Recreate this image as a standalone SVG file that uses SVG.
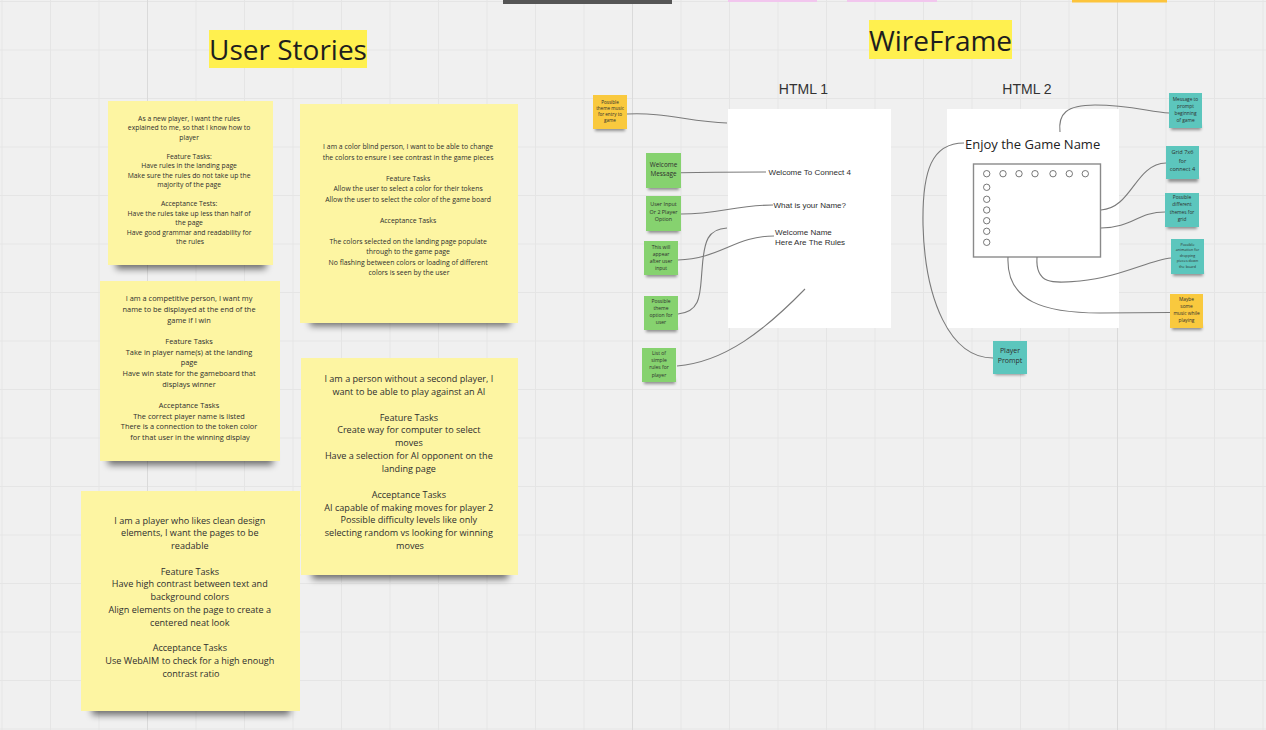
<svg xmlns="http://www.w3.org/2000/svg" width="1266" height="730" viewBox="0 0 1266 730">
<defs>
<pattern id="grid" x="1.5" y="1" width="48.5" height="48.5" patternUnits="userSpaceOnUse">
<path d="M0.5 0V48.5M0 0.5H48.5" stroke="#e5e5e5" stroke-width="1" fill="none"/>
</pattern>
<filter id="blur" x="-20%" y="-100%" width="140%" height="300%"><feGaussianBlur stdDeviation="3.5"/></filter>
<filter id="blurs" x="-30%" y="-100%" width="160%" height="300%"><feGaussianBlur stdDeviation="1.5"/></filter>
<style>
.t{font-family:"Open Sans","Noto Sans",sans-serif;fill:#2e2e2e;text-anchor:middle}
.big{fill:#fdf5a2}
.sh{fill:#000;opacity:.55;filter:url(#blur)}
.shs{fill:#000;opacity:.4;filter:url(#blurs)}
.g{fill:#86d26f}
.c{fill:#5cc6bd}
.o{fill:#f9c93e}
.con{fill:none;stroke:#7a7a7a;stroke-width:1.1}
.s1{font-size:6.8px}
.s2{font-size:6.9px}
.s3{font-size:7.4px}
.s4{font-size:9.1px}
.tiny{font-size:4.6px}
.wf{font-family:"Liberation Sans",Arial,sans-serif;font-size:8px;fill:#2e2e2e}
</style>
</defs>
<rect width="1266" height="730" fill="#f0f0f0"/>
<rect width="1266" height="730" fill="url(#grid)"/>
<path d="M147.5 0V730M632.5 0V730M1117.5 0V730" stroke="#dadada" stroke-width="1"/>

<!-- top cut-off elements -->
<rect x="503" y="0" width="169" height="4" fill="#555"/>
<rect x="728" y="0" width="89" height="2" fill="#f2c6ee"/>
<rect x="847" y="0" width="90" height="2" fill="#f2c6ee"/>
<rect x="1072" y="0" width="95" height="2.5" fill="#fcc43c"/>

<!-- titles -->
<g id="title-user-stories">
<rect x="209" y="30" width="158" height="38" fill="#fff04f"/>
<text x="288" y="60" class="t" style="font-size:28px;fill:#1e1e1e">User Stories</text>
</g>
<g id="title-wireframe">
<rect x="869" y="20" width="143" height="39" fill="#fff04f"/>
<text x="940.5" y="51" class="t" style="font-size:28px;fill:#1e1e1e">WireFrame</text>
</g>

<!-- big sticky notes -->
<g id="story-rules">
<rect class="sh" x="116" y="255" width="150" height="14"/>
<rect class="big" x="108" y="101" width="165" height="164"/>
<text class="t s1" x="190" y="120.7">
<tspan x="190">As a new player, I want the rules</tspan>
<tspan x="190" dy="9.49">explained to me, so that I know how to</tspan>
<tspan x="190" dy="9.49">player</tspan>
<tspan x="190" dy="18.98">Feature Tasks:</tspan>
<tspan x="190" dy="9.49">Have rules in the landing page</tspan>
<tspan x="190" dy="9.49">Make sure the rules do not take up the</tspan>
<tspan x="190" dy="9.49">majority of the page</tspan>
<tspan x="190" dy="18.98">Acceptance Tests:</tspan>
<tspan x="190" dy="9.49">Have the rules take up less than half of</tspan>
<tspan x="190" dy="9.49">the page</tspan>
<tspan x="190" dy="9.49">Have good grammar and readability for</tspan>
<tspan x="190" dy="9.49">the rules</tspan>
</text>
</g>

<g id="story-colorblind">
<rect class="sh" x="310" y="312" width="200" height="14"/>
<rect class="big" x="300" y="104" width="218" height="219"/>
<text class="t s2" x="409" y="149.1">
<tspan x="409">I am a color blind person, I want to be able to change</tspan>
<tspan x="409" dy="10.5">the colors to ensure I see contrast in the game pieces</tspan>
<tspan x="409" dy="21">Feature Tasks</tspan>
<tspan x="409" dy="10.5">Allow the user to select a color for their tokens</tspan>
<tspan x="409" dy="10.5">Allow the user to select the color of the game board</tspan>
<tspan x="409" dy="21">Acceptance Tasks</tspan>
<tspan x="409" dy="21">The colors selected on the landing page populate</tspan>
<tspan x="409" dy="10.5">through to the game page</tspan>
<tspan x="409" dy="10.5">No flashing between colors or loading of different</tspan>
<tspan x="409" dy="10.5">colors is seen by the user</tspan>
</text>
</g>

<g id="story-competitive">
<rect class="sh" x="108" y="451" width="165" height="14"/>
<rect class="big" x="100" y="281" width="180" height="180"/>
<text class="t s3" x="190" y="301.3">
<tspan x="190">I am a competitive person, I want my</tspan>
<tspan x="190" dy="10.66">name to be displayed at the end of the</tspan>
<tspan x="190" dy="10.66">game if I win</tspan>
<tspan x="190" dy="21.32">Feature Tasks</tspan>
<tspan x="190" dy="10.66">Take in player name(s) at the landing</tspan>
<tspan x="190" dy="10.66">page</tspan>
<tspan x="190" dy="10.66">Have win state for the gameboard that</tspan>
<tspan x="190" dy="10.66">displays winner</tspan>
<tspan x="190" dy="21.32">Acceptance Tasks</tspan>
<tspan x="190" dy="10.66">The correct player name is listed</tspan>
<tspan x="190" dy="10.66">There is a connection to the token color</tspan>
<tspan x="190" dy="10.66">for that user in the winning display</tspan>
</text>
</g>

<g id="story-ai">
<rect class="sh" x="312" y="564" width="196" height="15"/>
<rect class="big" x="301" y="358" width="217" height="217"/>
<text class="t s4" x="410" y="381.9">
<tspan x="410">I am a person without a second player, I</tspan>
<tspan x="410" dy="12.87">want to be able to play against an AI</tspan>
<tspan x="410" dy="25.74">Feature Tasks</tspan>
<tspan x="410" dy="12.87">Create way for computer to select</tspan>
<tspan x="410" dy="12.87">moves</tspan>
<tspan x="410" dy="12.87">Have a selection for AI opponent on the</tspan>
<tspan x="410" dy="12.87">landing page</tspan>
<tspan x="410" dy="25.74">Acceptance Tasks</tspan>
<tspan x="410" dy="12.87">AI capable of making moves for player 2</tspan>
<tspan x="410" dy="12.87">Possible difficulty levels like only</tspan>
<tspan x="410" dy="12.87">selecting random vs looking for winning</tspan>
<tspan x="410" dy="12.87">moves</tspan>
</text>
</g>

<g id="story-design">
<rect class="sh" x="92" y="700" width="198" height="15"/>
<rect class="big" x="81" y="491" width="219" height="220"/>
<text class="t s4" x="191" y="523.5">
<tspan x="191">I am a player who likes clean design</tspan>
<tspan x="191" dy="12.75">elements, I want the pages to be</tspan>
<tspan x="191" dy="12.75">readable</tspan>
<tspan x="191" dy="25.5">Feature Tasks</tspan>
<tspan x="191" dy="12.75">Have high contrast between text and</tspan>
<tspan x="191" dy="12.75">background colors</tspan>
<tspan x="191" dy="12.75">Align elements on the page to create a</tspan>
<tspan x="191" dy="12.75">centered neat look</tspan>
<tspan x="191" dy="25.5">Acceptance Tasks</tspan>
<tspan x="191" dy="12.75">Use WebAIM to check for a high enough</tspan>
<tspan x="191" dy="12.75">contrast ratio</tspan>
</text>
</g>

<!-- wireframe pages -->
<g id="html1">
<text x="803.5" y="94" style="font-family:'Liberation Sans',Arial,sans-serif;font-size:14px;fill:#333;text-anchor:middle">HTML 1</text>
<rect x="728" y="109" width="163" height="219" fill="#fff"/>
<text class="wf" x="768.5" y="174.8">Welcome To Connect 4</text>
<text class="wf" x="773.5" y="207.5">What is your Name?</text>
<text class="wf" x="775" y="234.5">Welcome Name</text>
<text class="wf" x="775" y="245.3">Here Are The Rules</text>
</g>

<g id="html2">
<text x="1027" y="94" style="font-family:'Liberation Sans',Arial,sans-serif;font-size:14px;fill:#333;text-anchor:middle">HTML 2</text>
<rect x="947" y="109" width="172" height="219" fill="#fff"/>
<text x="965" y="148.5" style="font-family:'Open Sans','Noto Sans',sans-serif;font-size:13px;fill:#222">Enjoy the Game Name</text>
<rect x="973.5" y="164" width="127" height="93" fill="#fff" stroke="#8a8a8a" stroke-width="1.4"/>
<g fill="none" stroke="#555" stroke-width="0.8">
<circle cx="986.7" cy="173.7" r="3.2"/><circle cx="1003" cy="173.7" r="3.2"/><circle cx="1019" cy="173.7" r="3.2"/><circle cx="1035" cy="173.7" r="3.2"/><circle cx="1053" cy="173.7" r="3.2"/><circle cx="1069.3" cy="173.7" r="3.2"/><circle cx="1085.3" cy="173.7" r="3.2"/>
<circle cx="986.7" cy="187.3" r="3.2"/><circle cx="986.7" cy="199.3" r="3.2"/><circle cx="986.7" cy="210" r="3.2"/><circle cx="986.7" cy="220.7" r="3.2"/><circle cx="986.7" cy="231.3" r="3.2"/><circle cx="986.7" cy="242.3" r="3.2"/>
</g>
</g>

<!-- connectors -->
<g id="connectors" class="con">
<path class="con" d="M627 114 C665 112 690 122 727 123"/>
<path class="con" d="M681 172.7 C710 172 735 172 766 172"/>
<path class="con" d="M681 214 C720 214 735 205 773 205"/>
<path class="con" d="M678 260 C720 259 735 236 774 236"/>
<path class="con" d="M678 314 C702 312 700 292 702 270 C704 240 708 229 727 228"/>
<path class="con" d="M677 366 C725 362 765 330 805 289"/>
<path class="con" d="M964 143 C932 143 922 170 923 225 C925 300 950 358 993 358"/>
<path class="con" d="M1060 132 C1058 114 1066 105 1095 105 C1130 105 1150 112 1169 113"/>
<path class="con" d="M1101 210 C1132 208 1135 164 1166 163"/>
<path class="con" d="M1101 228 C1132 228 1138 212 1165 212"/>
<path class="con" d="M1037 257 C1035 286 1055 283 1080 281 C1120 277 1150 260 1171 258"/>
<path class="con" d="M1008 257 C1006 302 1045 313 1100 313 L1170 312.5"/>
</g>

<!-- small sticky notes left -->
<g id="note-theme-music">
<rect class="shs" x="595" y="126" width="30" height="5"/>
<rect class="o" x="593" y="95" width="34" height="34"/>
<text class="t tiny" x="610" y="103.8"><tspan x="610">Possible</tspan><tspan x="610" dy="6.1">theme music</tspan><tspan x="610" dy="6.1">for entry to</tspan><tspan x="610" dy="6.1">game</tspan></text>
</g>
<g id="note-welcome">
<rect class="shs" x="648" y="185" width="31" height="5"/>
<rect class="g" x="646" y="153" width="35" height="35"/>
<text class="t" style="font-size:6.4px" x="663.5" y="167.3"><tspan x="663.5">Welcome</tspan><tspan x="663.5" dy="9">Message</tspan></text>
</g>
<g id="note-user-input">
<rect class="shs" x="648" y="228" width="31" height="5"/>
<rect class="g" x="646" y="196" width="35" height="35"/>
<text class="t" style="font-size:5.4px" x="663.5" y="206"><tspan x="663.5">User Input</tspan><tspan x="663.5" dy="7.5">Or 2 Player</tspan><tspan x="663.5" dy="7.5">Option</tspan></text>
</g>
<g id="note-after-input">
<rect class="shs" x="646" y="272" width="31" height="5"/>
<rect class="g" x="644" y="241" width="34" height="34"/>
<text class="t" style="font-size:5px" x="661" y="249"><tspan x="661">This will</tspan><tspan x="661" dy="7">appear</tspan><tspan x="661" dy="7">after user</tspan><tspan x="661" dy="7">input</tspan></text>
</g>
<g id="note-theme-option">
<rect class="shs" x="646" y="327" width="31" height="5"/>
<rect class="g" x="644" y="296" width="34" height="34"/>
<text class="t" style="font-size:5px" x="661" y="302.8"><tspan x="661">Possible</tspan><tspan x="661" dy="7.2">theme</tspan><tspan x="661" dy="7.2">option for</tspan><tspan x="661" dy="7.2">user</tspan></text>
</g>
<g id="note-rules-list">
<rect class="shs" x="644" y="379" width="31" height="5"/>
<rect class="g" x="642" y="348" width="34" height="34"/>
<text class="t" style="font-size:5px" x="659" y="354.5"><tspan x="659">List of</tspan><tspan x="659" dy="7.4">simple</tspan><tspan x="659" dy="7.4">rules for</tspan><tspan x="659" dy="7.4">player</tspan></text>
</g>

<!-- small sticky notes right -->
<g id="note-prompt-message">
<rect class="shs" x="1171" y="125" width="30" height="5"/>
<rect class="c" x="1169" y="93" width="33" height="35"/>
<text class="t" style="font-size:4.8px" x="1185.5" y="101"><tspan x="1185.5">Message to</tspan><tspan x="1185.5" dy="7">prompt</tspan><tspan x="1185.5" dy="7">beginning</tspan><tspan x="1185.5" dy="7">of game</tspan></text>
</g>
<g id="note-grid">
<rect class="shs" x="1168" y="177" width="30" height="5"/>
<rect class="c" x="1166" y="146" width="33" height="33"/>
<text class="t" style="font-size:5.6px" x="1182.5" y="154"><tspan x="1182.5">Grid 7x6</tspan><tspan x="1182.5" dy="8.5">for</tspan><tspan x="1182.5" dy="8.5">connect 4</tspan></text>
</g>
<g id="note-grid-themes">
<rect class="shs" x="1167" y="224" width="30" height="5"/>
<rect class="c" x="1165" y="193" width="34" height="34"/>
<text class="t" style="font-size:4.8px" x="1182" y="199"><tspan x="1182">Possible</tspan><tspan x="1182" dy="7.3">different</tspan><tspan x="1182" dy="7.3">themes for</tspan><tspan x="1182" dy="7.3">grid</tspan></text>
</g>
<g id="note-animation">
<rect class="shs" x="1173" y="271" width="30" height="5"/>
<rect class="c" x="1171" y="239" width="33" height="35"/>
<text class="t" style="font-size:3.7px" x="1187.5" y="245.6"><tspan x="1187.5">Possible</tspan><tspan x="1187.5" dy="5.6">animation for</tspan><tspan x="1187.5" dy="5.6">dropping</tspan><tspan x="1187.5" dy="5.6">pieces down</tspan><tspan x="1187.5" dy="5.6">the board</tspan></text>
</g>
<g id="note-music">
<rect class="shs" x="1172" y="325" width="30" height="5"/>
<rect class="o" x="1170" y="294" width="33" height="34"/>
<text class="t" style="font-size:4.8px" x="1186.5" y="301"><tspan x="1186.5">Maybe</tspan><tspan x="1186.5" dy="7">some</tspan><tspan x="1186.5" dy="7">music while</tspan><tspan x="1186.5" dy="7">playing</tspan></text>
</g>
<g id="note-player-prompt">
<rect class="shs" x="995" y="370" width="30" height="5"/>
<rect class="c" x="993" y="341" width="34" height="33"/>
<text class="t" style="font-size:7px" x="1010" y="353.3"><tspan x="1010">Player</tspan><tspan x="1010" dy="10">Prompt</tspan></text>
</g>
</svg>
